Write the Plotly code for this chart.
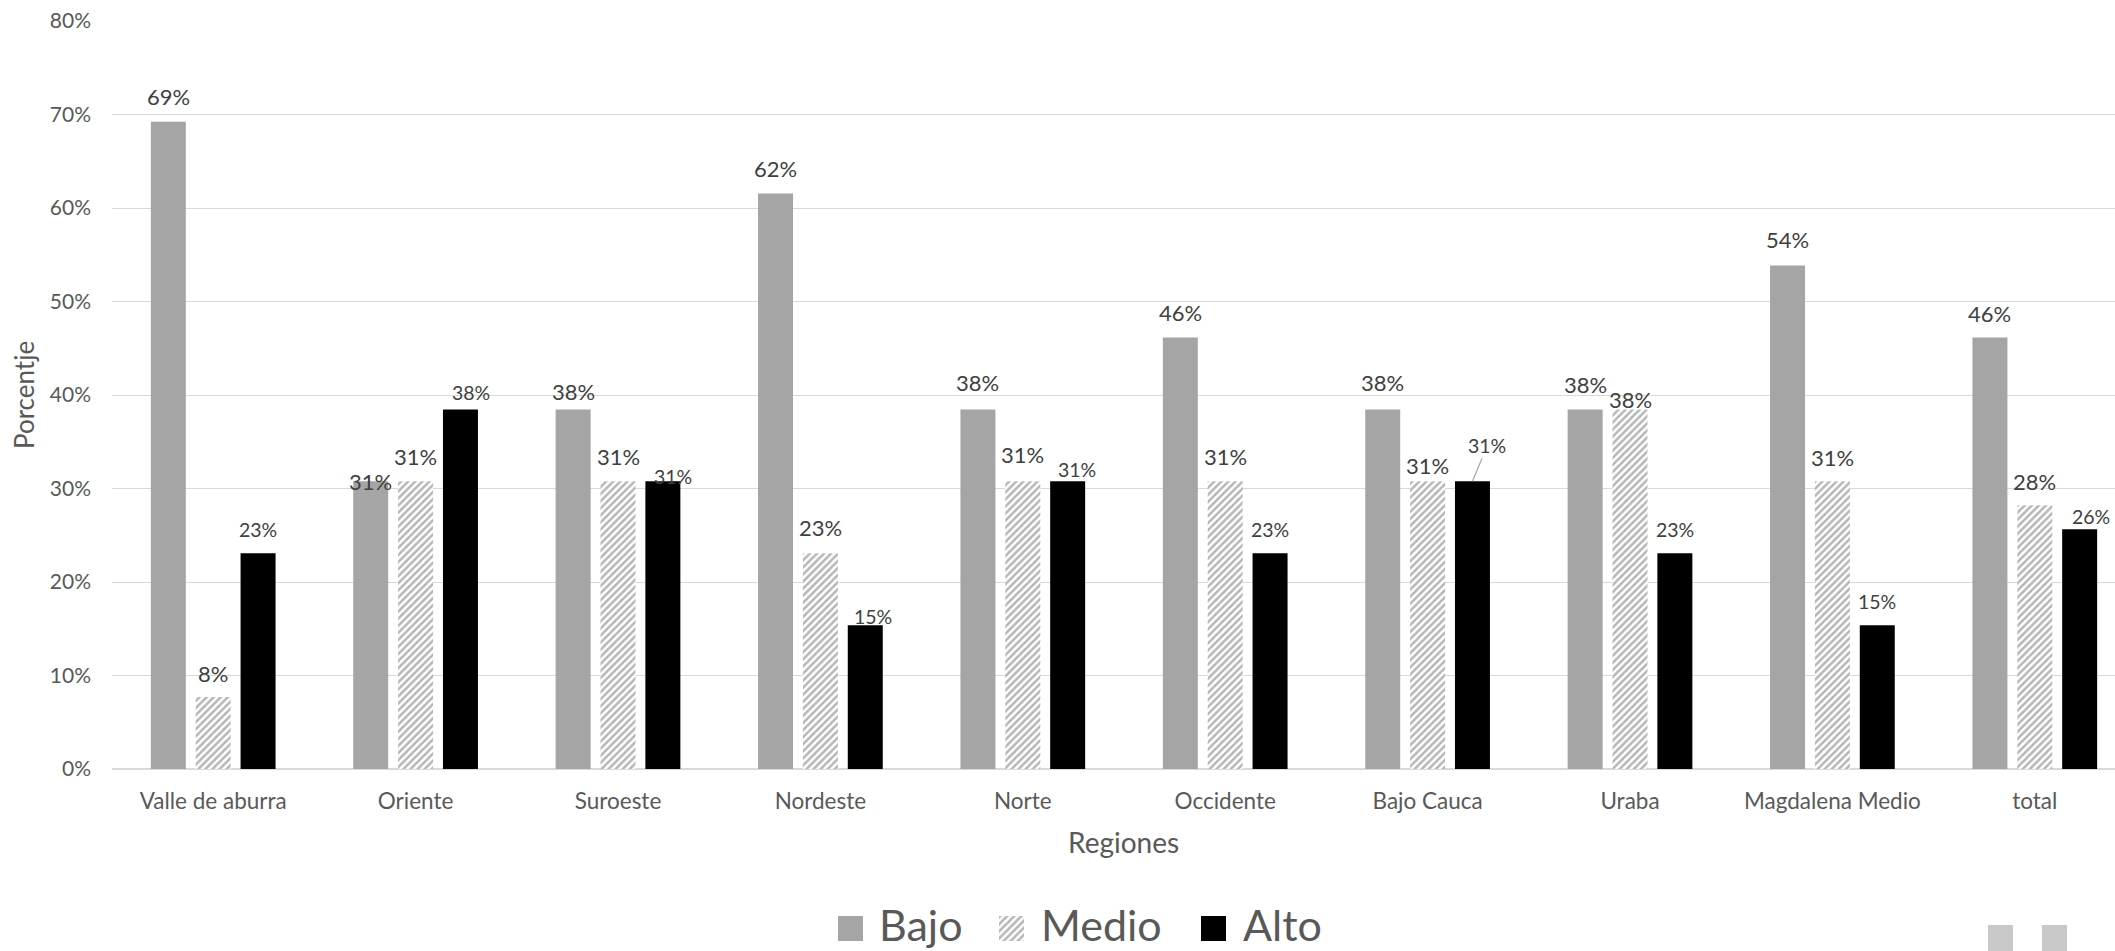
import plotly.graph_objects as go

# ---------------- data ----------------
categories = ["Valle de aburra", "Oriente", "Suroeste", "Nordeste", "Norte",
              "Occidente", "Bajo Cauca", "Uraba", "Magdalena Medio", "total"]
bajo = [69.23, 30.77, 38.46, 61.54, 38.46, 46.15, 38.46, 38.46, 53.85, 46.15]
medio = [7.69, 30.77, 30.77, 23.08, 30.77, 30.77, 30.77, 38.46, 30.77, 28.21]
alto = [23.08, 38.46, 30.77, 15.38, 30.77, 23.08, 30.77, 23.08, 15.38, 25.64]
series_names = ["Bajo", "Medio", "Alto"]
y_ticks = [0, 10, 20, 30, 40, 50, 60, 70, 80]
y_tick_text = [f"{v}%" for v in y_ticks]

# ---------------- styling ----------------
W, H = 2115, 951
FONT = "Lato"
TICK_COLOR = "#595959"
LABEL_COLOR = "#404040"
GRID = "#d9d9d9"
BAJO_COLOR = "#a5a5a5"
ALTO_COLOR = "#000000"
HATCH_COLOR = "#6e6e6e"

PLOT_LEFT, PLOT_RIGHT = 112, W      # pixel edges of the plot area
PLOT_TOP, PLOT_BOTTOM = 21, 769
CAT_PX = 202.4                      # width of one category in pixels
BARGAP = 0.335
BARGROUPGAP = 0.22
SLOT = (1 - BARGAP) / 3

# label offsets (pixels above bar top, pixels right) per series / category
label_dy = [
    [25, 0, 18, 25, 27, 25, 27, 25, 26, 24],
    [24, 25, 25, 26, 27, 25, 16, 10, 24, 24],
    [24, 17, 5, 9, 12, 24, 36, 24, 24, 13],
]
label_dx = [
    [0] * 10,
    [0] * 10,
    [0, 11, 10, 8, 9, 0, 15, 0, 0, 11],
]
label_size = [22, 22, 19.5]
leader_line = (2, 6)  # (series, category) with a leader line

fig = go.Figure()

markers = [
    dict(color=BAJO_COLOR, line=dict(width=0)),
    dict(color="white", line=dict(width=0),
         pattern=dict(shape="/", fgcolor=HATCH_COLOR, bgcolor="white",
                      size=5, solidity=0.5)),
    dict(color=ALTO_COLOR, line=dict(width=0)),
]
values = [bajo, medio, alto]

for name, vals, mk in zip(series_names, values, markers):
    fig.add_trace(go.Bar(x=categories, y=vals, name=name, marker=mk,
                         showlegend=False, xaxis="x", yaxis="y"))

# data labels
annotations = []
for s, vals in enumerate(values):
    for i, v in enumerate(vals):
        xpos = i + (s - 1) * SLOT
        txt = f"{int(v + 0.5)}%"
        if (s, i) == leader_line:
            annotations.append(dict(
                x=xpos, y=v, xref="x", yref="y", text=txt, showarrow=True,
                ax=label_dx[s][i], ay=-label_dy[s][i], arrowhead=0,
                arrowwidth=1.2, arrowcolor="#a6a6a6", standoff=0,
                font=dict(family=FONT, size=label_size[s], color=LABEL_COLOR)))
        else:
            annotations.append(dict(
                x=xpos, y=v, xref="x", yref="y", text=txt, showarrow=False,
                xanchor="center", yanchor="middle",
                xshift=label_dx[s][i], yshift=label_dy[s][i],
                font=dict(family=FONT, size=label_size[s], color=LABEL_COLOR)))

# ---- custom legend on an overlay pixel axis ----
legend_sw = [838, 999, 1201]   # left of swatch
legend_tx = [877, 1039, 1241]  # left of text
SW = 25
SW_TOP = 916
for name, mk, sx in zip(series_names, markers, legend_sw):
    fig.add_trace(go.Bar(x=[sx], y=[SW], base=[SW_TOP], width=[SW], offset=0,
                         marker=mk, showlegend=False, xaxis="x2", yaxis="y2",
                         hoverinfo="skip"))
for name, tx in zip(series_names, legend_tx):
    annotations.append(dict(x=tx, y=SW_TOP + SW / 2 - 4, xref="x2", yref="y2",
                            text=name, showarrow=False, xanchor="left",
                            yanchor="middle",
                            font=dict(family=FONT, size=43, color=TICK_COLOR)))

# axis titles
annotations.append(dict(x=1123, y=842, xref="x2", yref="y2", text="Regiones",
                        showarrow=False, xanchor="center", yanchor="middle",
                        font=dict(family=FONT, size=28, color=TICK_COLOR)))
annotations.append(dict(x=24, y=395, xref="x2", yref="y2", text="Porcentje",
                        showarrow=False, textangle=-90, xanchor="center",
                        yanchor="middle",
                        font=dict(family=FONT, size=26, color=TICK_COLOR)))

shapes = [
    dict(type="rect", xref="x2", yref="y2", x0=1988, x1=2013, y0=925, y1=951,
         fillcolor="#c8c8c8", line=dict(width=0)),
    dict(type="rect", xref="x2", yref="y2", x0=2042, x1=2067, y0=925, y1=951,
         fillcolor="#c8c8c8", line=dict(width=0)),
]

n_visible = (PLOT_RIGHT - PLOT_LEFT) / CAT_PX

fig.update_layout(
    width=W, height=H,
    autosize=False,
    margin=dict(l=0, r=0, t=0, b=0, pad=0, autoexpand=False),
    paper_bgcolor="white", plot_bgcolor="rgba(0,0,0,0)",
    barmode="group", bargap=BARGAP, bargroupgap=BARGROUPGAP,
    showlegend=False,
    font=dict(family=FONT, color=TICK_COLOR),
    xaxis=dict(domain=[PLOT_LEFT / W, PLOT_RIGHT / W], type="category",
               range=[-0.5, -0.5 + n_visible], showgrid=False,
               showline=False, zeroline=False, ticks="",
               ticklabelstandoff=16, automargin=False,
               tickfont=dict(family=FONT, size=22.5, color=TICK_COLOR),
               anchor="y"),
    yaxis=dict(domain=[(H - PLOT_BOTTOM) / H, (H - PLOT_TOP) / H],
               range=[0, 80], tickvals=y_ticks, ticktext=y_tick_text,
               showgrid=True, gridcolor=GRID, gridwidth=1.4,
               zeroline=True, zerolinecolor=GRID, zerolinewidth=1.8,
               showline=False, ticks="", ticklabelstandoff=20,
               automargin=False,
               tickfont=dict(family=FONT, size=21, color=TICK_COLOR),
               anchor="x"),
    xaxis2=dict(domain=[0, 1], range=[0, W], visible=False, anchor="y2",
                fixedrange=True, automargin=False),
    yaxis2=dict(domain=[0, 1], range=[H, 0], visible=False, anchor="x2",
                fixedrange=True, automargin=False),
    annotations=annotations,
    shapes=shapes,
)

fig.write_html("out.html",
               config=dict(displayModeBar=False),
               post_script="document.body.style.margin='0';"
                           "document.body.style.overflow='hidden';")
